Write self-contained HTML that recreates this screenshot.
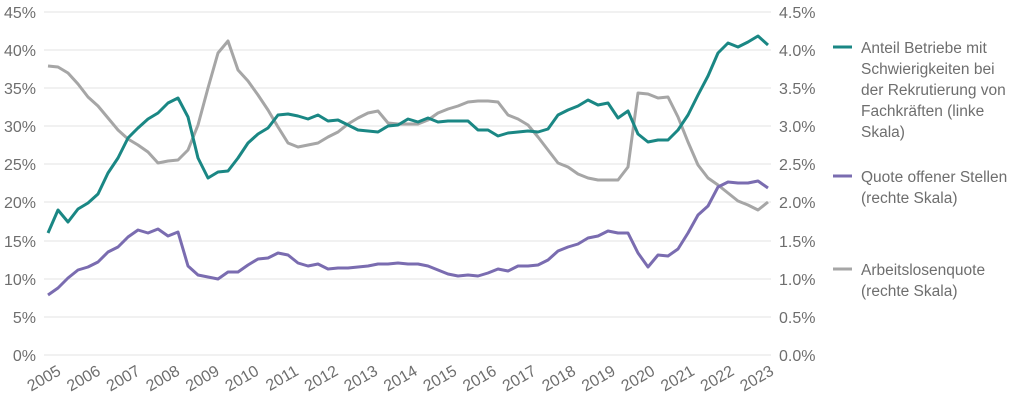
<!DOCTYPE html>
<html><head><meta charset="utf-8"><style>
body{margin:0;background:#fff;}
svg text{font-family:"Liberation Sans",sans-serif;fill:#6e6e6e;}
</style></head><body>
<svg width="1024" height="413" viewBox="0 0 1024 413" xmlns="http://www.w3.org/2000/svg">
<g stroke="#e3e3e3" stroke-width="1">
<line x1="44" x2="771" y1="12" y2="12"/><line x1="44" x2="771" y1="50" y2="50"/>
<line x1="44" x2="771" y1="88" y2="88"/><line x1="44" x2="771" y1="126" y2="126"/>
<line x1="44" x2="771" y1="164" y2="164"/><line x1="44" x2="771" y1="202" y2="202"/>
<line x1="44" x2="771" y1="241" y2="241"/><line x1="44" x2="771" y1="279" y2="279"/>
<line x1="44" x2="771" y1="317" y2="317"/><line x1="44" x2="771" y1="355" y2="355"/>
</g>
<g font-size="16" text-anchor="end">
<text x="36" y="18">45%</text><text x="36" y="56">40%</text><text x="36" y="94">35%</text>
<text x="36" y="132">30%</text><text x="36" y="170">25%</text><text x="36" y="208">20%</text>
<text x="36" y="247">15%</text><text x="36" y="285">10%</text><text x="36" y="323">5%</text>
<text x="36" y="361">0%</text>
</g>
<g font-size="16">
<text x="779" y="18">4.5%</text><text x="779" y="56">4.0%</text><text x="779" y="94">3.5%</text>
<text x="779" y="132">3.0%</text><text x="779" y="170">2.5%</text><text x="779" y="208">2.0%</text>
<text x="779" y="247">1.5%</text><text x="779" y="285">1.0%</text><text x="779" y="323">0.5%</text>
<text x="779" y="361">0.0%</text>
</g>
<g font-size="16" text-anchor="end">
<text transform="translate(62,374) rotate(-30)">2005</text>
<text transform="translate(101.6,374) rotate(-30)">2006</text>
<text transform="translate(141.2,374) rotate(-30)">2007</text>
<text transform="translate(180.8,374) rotate(-30)">2008</text>
<text transform="translate(220.4,374) rotate(-30)">2009</text>
<text transform="translate(260,374) rotate(-30)">2010</text>
<text transform="translate(299.6,374) rotate(-30)">2011</text>
<text transform="translate(339.2,374) rotate(-30)">2012</text>
<text transform="translate(378.8,374) rotate(-30)">2013</text>
<text transform="translate(418.4,374) rotate(-30)">2014</text>
<text transform="translate(458,374) rotate(-30)">2015</text>
<text transform="translate(497.6,374) rotate(-30)">2016</text>
<text transform="translate(537.2,374) rotate(-30)">2017</text>
<text transform="translate(576.8,374) rotate(-30)">2018</text>
<text transform="translate(616.4,374) rotate(-30)">2019</text>
<text transform="translate(656,374) rotate(-30)">2020</text>
<text transform="translate(695.6,374) rotate(-30)">2021</text>
<text transform="translate(735.2,374) rotate(-30)">2022</text>
<text transform="translate(774.8,374) rotate(-30)">2023</text>
</g>
<g fill="none" stroke-width="3" stroke-linejoin="round">
<polyline stroke="#a6a6a6" points="48,66 58,67 68,73 78,84 88,97 98,106 108,118 118,130 128,139 138,145 148,152 158,163 168,161 178,160 188,150 198,125 208,88 218,53 228,41 238,70 248,81 258,95 268,110 278,127 288,143 298,147 308,145 318,143 328,137 338,132 348,124 358,118 368,113 378,111 388,123 398,124 408,124 418,124 428,120 438,113 448,109 458,106 468,102 478,101 488,101 498,102 508,115 518,119 528,125 538,137 548,150 558,163 568,167 578,174 588,178 598,180 608,180 618,180 628,167 638,93 648,94 658,98 668,97 678,117 688,142 698,165 708,178 718,185 728,193 738,201 748,205 758,210 768,202"/>
<polyline stroke="#7a6cb0" points="48,295 58,288 68,278 78,270 88,267 98,262 108,252 118,247 128,237 138,230 148,233 158,229 168,236 178,232 188,266 198,275 208,277 218,279 228,272 238,272 248,265 258,259 268,258 278,253 288,255 298,263 308,266 318,264 328,269 338,268 348,268 358,267 368,266 378,264 388,264 398,263 408,264 418,264 428,266 438,270 448,274 458,276 468,275 478,276 488,273 498,269 508,271 518,266 528,266 538,265 548,260 558,251 568,247 578,244 588,238 598,236 608,231 618,233 628,233 638,253 648,267 658,255 668,256 678,249 688,233 698,215 708,206 718,187 728,182 738,183 748,183 758,181 768,188"/>
<polyline stroke="#1a8784" points="48,233 58,210 68,222 78,209 88,203 98,194 108,173 118,158 128,138 138,128 148,119 158,113 168,103 178,98 188,117 198,158 208,178 218,172 228,171 238,158 248,143 258,134 268,128 278,115 288,114 298,116 308,119 318,115 328,121 338,120 348,125 358,130 368,131 378,132 388,126 398,125 408,119 418,122 428,118 438,122 448,121 458,121 468,121 478,130 488,130 498,136 508,133 518,132 528,131 538,132 548,129 558,115 568,110 578,106 588,100 598,105 608,103 618,118 628,111 638,134 648,142 658,140 668,140 678,130 688,115 698,95 708,76 718,53 728,43 738,47 748,42 758,36 768,45"/>
</g>
<g stroke-width="3">
<line x1="833" x2="852" y1="47" y2="47" stroke="#1a8784"/>
<line x1="833" x2="852" y1="176" y2="176" stroke="#7a6cb0"/>
<line x1="833" x2="852" y1="269" y2="269" stroke="#a6a6a6"/>
</g>
<g font-size="15.5" style="fill:#555">
<text x="861" y="53">Anteil Betriebe mit</text>
<text x="861" y="74">Schwierigkeiten bei</text>
<text x="861" y="95">der Rekrutierung von</text>
<text x="861" y="116">Fachkräften (linke</text>
<text x="861" y="137">Skala)</text>
<text x="861" y="182">Quote offener Stellen</text>
<text x="861" y="203">(rechte Skala)</text>
<text x="861" y="275">Arbeitslosenquote</text>
<text x="861" y="296">(rechte Skala)</text>
</g>
</svg>
</body></html>
